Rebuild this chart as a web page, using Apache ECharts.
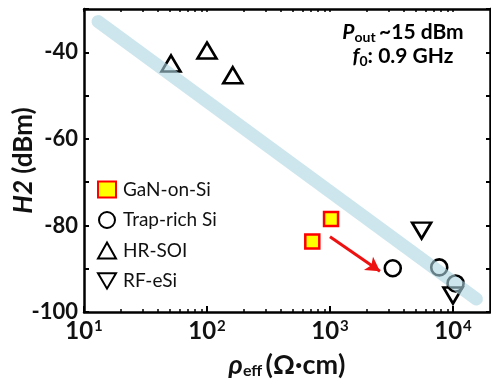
<!DOCTYPE html>
<html><head><meta charset="utf-8">
<script src="https://cdn.jsdelivr.net/npm/echarts@6/dist/echarts.min.js"></script>
<style>html,body{margin:0;padding:0;background:#fff}#c{width:491px;height:384px}</style>
</head><body><div id="c"></div>
<script>
const ganOnSi = [[718, -83.7], [1020, -78.5]];
const trapRichSi = [[3240, -89.9], [7730, -89.7], [10500, -93.4]];
const hrSoi = [[51, -42.6], [100, -39.6], [162, -45.3]];
const rfESi = [[5560, -81.2], [10000, -96.2]];
const trendLine = [[13, -32.9], [15500, -97.0]];
const arrowPath = [[1000, -82.6], [2550, -90.6]];
const xMajorTicks = [10, 100, 1000, 10000];
const xMinorTicks = [20,30,40,50,60,70,80,90,200,300,400,500,600,700,800,900,2000,3000,4000,5000,6000,7000,8000,9000];
const yTickLabels = [-40, -60, -80, -100];

const FONT = 'Lato';
const DOWN_TRI = 'path://M0,0L20,0L10,17Z';
const chart = echarts.init(document.getElementById('c'));
const baseX = {type:'log', logBase:10, min:10, max:20000, gridIndex:0};
const option = {
  backgroundColor:'#fff',
  animation:false,
  grid:{left:84, right:1, top:9, bottom:72, containLabel:false, outerBoundsMode:'none'},
  legend:{
    orient:'vertical', left:92, top:175, itemWidth:18, itemHeight:16, itemGap:11.5,
    textStyle:{fontFamily:FONT, fontSize:19, color:'#111', padding:[0,0,0,2]},
    data:['GaN-on-Si','Trap-rich Si','HR-SOI','RF-eSi']
  },
  xAxis:[
    Object.assign({}, baseX, {
      position:'bottom',
      axisLine:{show:true, lineStyle:{color:'#000', width:2.5}},
      axisTick:{show:true, inside:true, length:6, customValues:xMajorTicks, lineStyle:{color:'#000', width:2}},
      axisLabel:{customValues:xMajorTicks, margin:7,
        formatter:function(v){const e=Math.round(Math.log10(v));return '{b|10}{s|'+e+'}';},
        rich:{b:{fontFamily:FONT,fontWeight:'bold',fontSize:24,color:'#111'},s:{fontFamily:FONT,fontWeight:'bold',fontSize:15,color:'#111',verticalAlign:'top',padding:[0,0,10,1]}}},
      splitLine:{show:false},
      name:'{i|ρ}{s|eff} {n|(Ω·cm)}', nameLocation:'middle', nameGap:40, nameMoveOverlap:false,
      nameTextStyle:{rich:{i:{fontFamily:FONT,fontStyle:'italic',fontWeight:'bold',fontSize:27,color:'#111'},
        s:{fontFamily:FONT,fontWeight:'bold',fontSize:16,color:'#111',verticalAlign:'bottom',padding:[10,0,0,0]},
        n:{fontFamily:FONT,fontWeight:'bold',fontSize:27,color:'#111'}}}
    }),
    Object.assign({}, baseX, {
      position:'bottom',
      axisLine:{show:false},
      axisTick:{show:true, inside:true, length:3, customValues:xMinorTicks, lineStyle:{color:'#000', width:1.5}},
      axisLabel:{show:false}, splitLine:{show:false}
    }),
    Object.assign({}, baseX, {
      position:'top',
      axisLine:{show:true, lineStyle:{color:'#000', width:2.5}},
      axisTick:{show:true, inside:true, length:3, customValues:xMinorTicks.concat(xMajorTicks), lineStyle:{color:'#000', width:1.5}},
      axisLabel:{show:false}, splitLine:{show:false}
    })
  ],
  yAxis:[
    {type:'value', min:-100, max:-30, interval:10, position:'left',
      axisLine:{show:true, lineStyle:{color:'#000', width:2.5}},
      axisTick:{show:true, inside:true, length:5, lineStyle:{color:'#000', width:2}},
      axisLabel:{margin:6, formatter:function(v){return yTickLabels.indexOf(v)>=0? String(v):'';},
        fontFamily:FONT, fontWeight:'bold', fontSize:22, color:'#111'},
      splitLine:{show:false},
      name:'{i|H2}{n| (dBm)}', nameLocation:'middle', nameGap:47, nameRotate:90, nameMoveOverlap:false,
      nameTextStyle:{rich:{i:{fontFamily:FONT,fontStyle:'italic',fontWeight:'bold',fontSize:26,color:'#111'},
        n:{fontFamily:FONT,fontWeight:'bold',fontSize:26,color:'#111'}}}
    },
    {type:'value', min:-100, max:-30, interval:10, position:'right',
      axisLine:{show:true, lineStyle:{color:'#000', width:2.5}},
      axisTick:{show:true, inside:true, length:4, lineStyle:{color:'#000', width:2}},
      axisLabel:{show:false}, splitLine:{show:false}}
  ],
  graphic:[
    {type:'text', x:403, y:20, z:100, style:{
      text:'{i|P}{s|out} {n|~15 dBm}\n{i|f}{s|0}{n|: 0.9 GHz}', align:'center',
      rich:{i:{fontFamily:FONT,fontStyle:'italic',fontWeight:'bold',fontSize:21,color:'#444',lineHeight:24},
        s:{fontFamily:FONT,fontWeight:'bold',fontSize:14,color:'#444',verticalAlign:'bottom',padding:[7,0,0,0],lineHeight:24},
        n:{fontFamily:FONT,fontWeight:'bold',fontSize:21,color:'#444',lineHeight:24}}
    }}
  ],
  series:[
    {name:'GaN-on-Si', type:'scatter', data:ganOnSi, symbol:'rect', symbolSize:14, z:3,
      itemStyle:{color:'#ffff00', borderColor:'#ff0000', borderWidth:2.5, opacity:1}},
    {name:'Trap-rich Si', type:'scatter', data:trapRichSi, symbol:'circle', symbolSize:16, z:3,
      itemStyle:{color:'rgba(255,255,255,0)', borderColor:'#000', borderWidth:2.6, opacity:1}},
    {name:'HR-SOI', type:'scatter', data:hrSoi, symbol:'triangle', symbolSize:[19,16], z:3,
      itemStyle:{color:'rgba(255,255,255,0)', borderColor:'#000', borderWidth:2.6, opacity:1}},
    {name:'RF-eSi', type:'scatter', data:rfESi, symbol:DOWN_TRI, symbolSize:[19,16], z:3,
      itemStyle:{color:'rgba(255,255,255,0)', borderColor:'#000', borderWidth:2.6, opacity:1}},
    {name:'trend', type:'line', data:trendLine, symbol:'none', z:5, silent:true,
      lineStyle:{color:'rgba(172,213,225,0.6)', width:13, cap:'round'}},
    {name:'arrow', type:'line', data:[], z:6, silent:true,
      markLine:{silent:true, symbol:['none','arrow'], symbolSize:[12,14],
        lineStyle:{color:'#ee1111', width:3, type:'solid'}, label:{show:false},
        data:[[{coord:arrowPath[0]},{coord:arrowPath[1]}]]}}
  ]
};
chart.setOption(option);
</script></body></html>
